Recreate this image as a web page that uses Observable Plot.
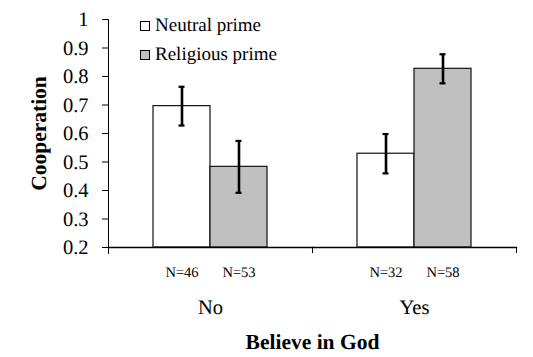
<!DOCTYPE html>
<html>
<head>
<meta charset="utf-8">
<script src="https://cdn.jsdelivr.net/npm/d3@7"></script>
<script src="https://cdn.jsdelivr.net/npm/@observablehq/plot@0.6"></script>
<style>
  body { margin: 0; background: #fff; }
  #wrap { position: relative; width: 533px; height: 357px; font-family: 'Liberation Serif', 'Times New Roman', serif; text-rendering: geometricPrecision; }
  #wrap svg, #wrap svg text { text-rendering: geometricPrecision; }
  #legend { position: absolute; left: 140px; top: 12px; font-size: 19px; color: #000; font-family: 'Liberation Serif', 'Times New Roman', serif; }
  #legend .row { display: flex; align-items: center; height: 28.5px; }
  #legend .sw { display: inline-block; width: 8px; height: 8px; border: 1px solid #000; margin-right: 5px; }
</style>
</head>
<body>
<div id="wrap"><div id="legend"></div></div>
<script>
const groups = ["No", "Yes"];
const primes = ["Neutral prime", "Religious prime"];
const believe = ["No", "No", "Yes", "Yes"];
const prime = ["Neutral prime", "Religious prime", "Neutral prime", "Religious prime"];
const cooperation = [0.696, 0.483, 0.529, 0.827];
const errors = [0.068, 0.091, 0.069, 0.051];
const nLabels = ["N=46", "N=53", "N=32", "N=58"];
const yTicks = [0.2, 0.3, 0.4, 0.5, 0.6, 0.7, 0.8, 0.9, 1];
const colors = ["#ffffff", "#c0c0c0"];

const data = believe.map((b, i) => ({
  believe: b, prime: prime[i], value: cooperation[i],
  lo: cooperation[i] - errors[i], hi: cooperation[i] + errors[i], n: nLabels[i]
}));

const font = "'Liberation Serif', 'Times New Roman', serif";

const chart = Plot.plot({
  width: 533,
  height: 357,
  marginTop: 19,
  marginBottom: 110,
  marginLeft: 108,
  marginRight: 17,
  style: {fontFamily: font, fontSize: "20px", color: "#000", background: "#fff"},
  fx: {domain: groups, padding: 0, axis: null},
  x: {domain: primes, paddingInner: 0, paddingOuter: 0.76, axis: null},
  y: {domain: [0.2, 1], ticks: yTicks, label: null},
  color: {domain: primes, range: colors},
  marks: [
    Plot.barY(data, {fx: "believe", x: "prime", y1: 0.2, y2: "value", fill: "prime", stroke: "#111", strokeWidth: 1.2}),
    Plot.ruleX(data, {fx: "believe", x: "prime", y1: "lo", y2: "hi", stroke: "#000", strokeWidth: 2.6}),
    Plot.tickY(data, {fx: "believe", x: "prime", y: "lo", stroke: "#000", strokeWidth: 2.2, insetLeft: 25.5, insetRight: 25.5}),
    Plot.tickY(data, {fx: "believe", x: "prime", y: "hi", stroke: "#000", strokeWidth: 2.2, insetLeft: 25.5, insetRight: 25.5}),
    Plot.frame({anchor: "bottom", stroke: "#000", strokeWidth: 1.3}),
    Plot.frame({anchor: "right", stroke: "#000", strokeWidth: 1, insetTop: 228, insetBottom: -5}),
    Plot.frame({anchor: "left", fx: "No", stroke: "#000", strokeWidth: 1, insetBottom: -6}),
    Plot.axisY({ticks: yTicks, tickSize: 6, tickPadding: 14, tickFormat: d => String(d), fontSize: 20.5, fontFamily: font, label: null}),
    Plot.text(data, {fx: "believe", x: "prime", text: "n", frameAnchor: "bottom", dy: 25, fontSize: 14.5, fontFamily: font, lineAnchor: "middle"}),
    Plot.text(groups, {fx: d => d, text: d => d, frameAnchor: "bottom", dy: 60, fontSize: 20.5, fontFamily: font, lineAnchor: "middle"}),
    Plot.text(["Believe in God"], {fx: () => "No", text: d => d, frameAnchor: "bottom-right", textAnchor: "middle", dy: 95, fontSize: 21.5, fontWeight: "bold", fontFamily: font, lineAnchor: "middle"}),
    Plot.text(["Cooperation"], {fx: () => "No", text: d => d, frameAnchor: "left", rotate: -90, dx: -69, fontSize: 21.5, fontWeight: "bold", fontFamily: font, lineAnchor: "middle", textAnchor: "middle"})
  ]
});
document.getElementById("wrap").prepend(chart);

const legend = document.getElementById("legend");
primes.forEach((p, i) => {
  const row = document.createElement("div");
  row.className = "row";
  const sw = document.createElement("span");
  sw.className = "sw";
  sw.style.background = colors[i];
  row.appendChild(sw);
  row.appendChild(document.createTextNode(p));
  legend.appendChild(row);
});
</script>
</body>
</html>
